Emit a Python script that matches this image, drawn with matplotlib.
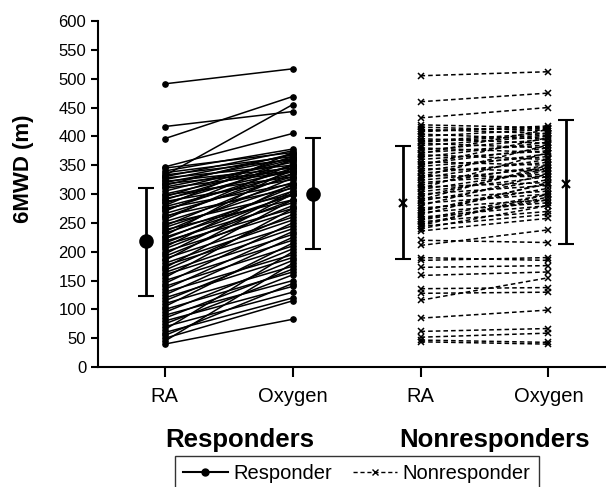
import matplotlib
matplotlib.use('Agg')
import matplotlib.pyplot as plt
from matplotlib.lines import Line2D

plt.rcParams['font.family'] = ['Liberation Sans', 'DejaVu Sans']

# 配对数据：RA 与 Oxygen 两种条件下的 6MWD (m)
RESP_RA = [491, 417, 396, 332, 347,
           345, 340, 337, 333, 330, 328, 325, 322, 320, 318, 315, 312, 310, 305, 300,
           298, 295, 292, 290, 287, 284, 280, 278, 275, 272, 270, 266, 262, 260, 256,
           252, 248, 245, 242, 238, 235, 232, 228, 225, 222, 218, 215, 212, 208, 205,
           200, 196, 192, 188, 185, 180, 176, 172, 168, 164, 160, 155, 150, 145, 140,
           135, 130, 125, 120, 115, 110, 105, 100, 95, 90, 85, 80, 75, 70, 65,
           60, 55, 50, 45, 40]
RESP_OX = [517, 443, 469, 455, 405,
           372, 378, 365, 360, 375, 350, 368, 345, 362, 340, 370, 355, 338, 360, 348,
           330, 365, 340, 358, 325, 350, 372, 335, 318, 345, 360, 330, 310, 340, 352,
           320, 300, 335, 315, 290, 328, 305, 345, 298, 312, 285, 300, 275, 318, 290,
           270, 305, 280, 260, 300, 255, 245, 290, 265, 240, 230, 275, 220, 250, 210,
           235, 195, 225, 190, 205, 175, 215, 165, 185, 150, 170, 140, 160, 130, 200,
           120, 145, 115, 180, 83]

NONRESP_RA = [505, 460, 432, 420, 416, 412, 408, 404, 400, 396, 392, 388, 384, 380,
              376, 372, 368, 364, 360, 356, 352, 348, 344, 340, 336, 332, 328, 324,
              320, 316, 312, 308, 304, 300, 296, 292, 288, 284, 280, 276, 272, 268,
              264, 260, 256, 252, 248, 244, 240, 236, 410, 390, 370, 350, 330, 310,
              290, 270, 255, 245,
              220, 211, 190, 185, 173, 159, 136, 128, 116, 85, 62, 52, 47, 44]
NONRESP_OX = [512, 475, 450, 415, 410, 405, 418, 395, 412, 388, 405, 380, 400, 372,
              395, 385, 360, 390, 375, 350, 380, 365, 340, 370, 355, 330, 360, 345,
              335, 350, 320, 340, 330, 315, 345, 305, 325, 300, 335, 290, 310, 285,
              320, 280, 300, 270, 295, 265, 280, 258, 414, 402, 412, 398, 385, 372,
              350, 318, 290, 300,
              216, 238, 185, 190, 176, 165, 138, 130, 155, 99, 67, 59, 43, 40]

# 各组均值与标准差
MEANS = [218, 300, 285, 318]
LOWER = [123, 204, 188, 214]
UPPER = [311, 397, 384, 429]
XTICKLABELS = ['RA', 'Oxygen', 'RA', 'Oxygen']
GROUPS = ['Responders', 'Nonresponders']

fig = plt.figure(figsize=(6.06, 4.87), dpi=100)
ax = fig.add_axes([0.162, 0.246, 0.838, 0.711])

# 应答组：实线 + 圆点
for a, b in zip(RESP_RA, RESP_OX):
    ax.plot([1, 2], [a, b], color='black', lw=1.1, marker='o', ms=3.8)
# 无应答组：虚线 + 叉号
for a, b in zip(NONRESP_RA, NONRESP_OX):
    ax.plot([3, 4], [a, b], color='black', lw=1.1, ls=(0, (3, 2)),
            marker='x', ms=4, mew=1.1)

# 均值 ± 标准差误差棒
bar_x = [0.85, 2.16, 2.86, 4.14]
markers = ['o', 'o', 'x', 'x']
for x, m, lo, hi, mk in zip(bar_x, MEANS, LOWER, UPPER, markers):
    ax.errorbar(x, m, yerr=[[m - lo], [hi - m]], color='black', lw=2,
                capsize=6, capthick=2, marker=mk, ms=9 if mk == 'o' else 6, mew=1.5)

ax.set_xlim(0.48, 4.45)
ax.set_ylim(0, 600)
ax.set_yticks(range(0, 601, 50))
ax.set_xticks([1, 2, 3, 4], XTICKLABELS)
ax.tick_params(axis='y', labelsize=12, width=1.5, length=5)
ax.tick_params(axis='x', labelsize=14.5, width=1.5, length=7, pad=7)
for s in ['top', 'right']:
    ax.spines[s].set_visible(False)
for s in ['left', 'bottom']:
    ax.spines[s].set_linewidth(1.5)
ax.set_ylabel('6MWD (m)', fontsize=16, fontweight='bold')
ax.yaxis.set_label_coords(-0.127, 0.572)

# 组名
ax.text(1.59, -0.21, GROUPS[0], transform=ax.get_xaxis_transform(),
        ha='center', va='center', fontsize=18.5, fontweight='bold')
ax.text(3.58, -0.21, GROUPS[1], transform=ax.get_xaxis_transform(),
        ha='center', va='center', fontsize=18.5, fontweight='bold')

handles = [Line2D([], [], color='black', lw=1.5, marker='o', ms=5),
           Line2D([], [], color='black', lw=1, ls=(0, (3, 2)), marker='x', ms=5)]
fig.legend(handles, ['Responder', 'Nonresponder'], loc='upper center',
           bbox_to_anchor=(357 / 606, 1 - 456 / 487), ncol=2, fontsize=14.5,
           frameon=True, fancybox=False, edgecolor='black', handlelength=2.2,
           columnspacing=1.0, borderpad=0.4, handletextpad=0.3, borderaxespad=0)

fig.savefig('out.png', dpi=100)
